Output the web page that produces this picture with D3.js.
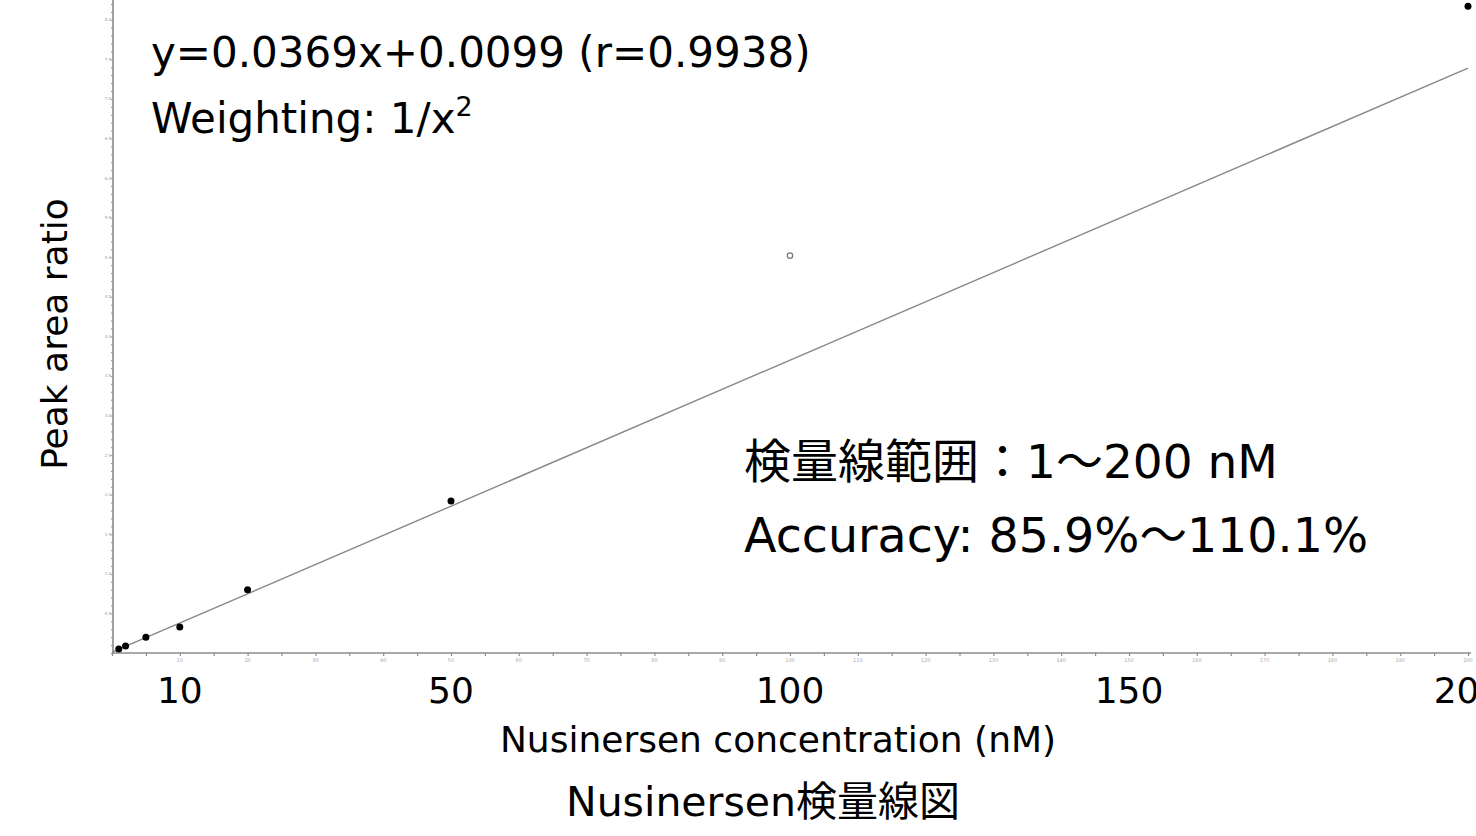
<!DOCTYPE html>
<html>
<head>
<meta charset="utf-8">
<script src="https://cdn.jsdelivr.net/npm/d3@7"></script>
<style>
  html, body { margin: 0; padding: 0; background: #fff; }
  svg { display: block; font-family: "DejaVu Sans", "Noto Sans CJK JP", sans-serif; }
</style>
</head>
<body>
<div id="chart"></div>
<script>
// calibration standards (nM) and measured peak area ratio
const concentrations = [1, 2, 5, 10, 20, 50, 200];
const ratios = [0.05, 0.088, 0.20, 0.33, 0.80, 1.92, 8.17];
// excluded point (open circle)
const excludedConc = [100];
const excludedRatio = [5.02];

const slope = 0.0369;
const intercept = 0.0099;

const bigXLabels = [10, 50, 100, 150, 200];
const smallXTicks = d3.range(10, 201, 10);
const smallYTicks = d3.range(0.5, 8.01, 0.5);

const W = 1476, H = 836;

const svg = d3.select("#chart").append("svg")
  .attr("width", W)
  .attr("height", H);

const x = d3.scaleLinear().domain([0, 200]).range([112, 1468]);
const y = d3.scaleLinear().domain([0, 8.25]).range([653, 0]);

const axisColor = "#8c8c8c";

// x axis, minor ticks every 5
const xAxis = svg.append("g")
  .attr("transform", `translate(0,${y(0)})`)
  .call(d3.axisBottom(x).tickValues(d3.range(0, 201, 5)).tickSize(3).tickFormat(""));
xAxis.select(".domain").attr("stroke", axisColor).attr("stroke-width", 1.6)
  .attr("d", `M${x(0)},0H1471`);
xAxis.selectAll(".tick line").attr("stroke", axisColor).attr("stroke-width", 1.2);

// tiny software labels under major ticks
svg.append("g").selectAll("text")
  .data(smallXTicks)
  .join("text")
  .attr("x", d => x(d))
  .attr("y", y(0) + 9)
  .attr("text-anchor", "middle")
  .attr("font-size", 5)
  .attr("fill", "#aaa")
  .text(d => d);

// y axis, minor ticks every 0.1
const yAxis = svg.append("g")
  .attr("transform", `translate(${x(0) + 1},0)`)
  .call(d3.axisLeft(y).tickValues(d3.range(0, 8.21, 0.1)).tickSize(2).tickFormat(""));
yAxis.select(".domain").attr("stroke", axisColor).attr("stroke-width", 1.6)
  .attr("d", `M0,${y(0) + 1}V0`);
yAxis.selectAll(".tick line").attr("stroke", axisColor).attr("stroke-width", 1);

svg.append("g").selectAll("text")
  .data(smallYTicks)
  .join("text")
  .attr("x", x(0) - 1)
  .attr("y", d => y(d) + 1.5)
  .attr("text-anchor", "end")
  .attr("font-size", 4)
  .attr("fill", "#999")
  .text(d => d.toFixed(1));

// regression line
const line = d3.line().x(d => x(d)).y(d => y(slope * d + intercept));
svg.append("path")
  .datum([0, 200])
  .attr("d", line)
  .attr("fill", "none")
  .attr("stroke", "#888")
  .attr("stroke-width", 1.4);

// points
svg.append("g").selectAll("circle")
  .data(concentrations)
  .join("circle")
  .attr("cx", d => x(d))
  .attr("cy", (d, i) => y(ratios[i]))
  .attr("r", 3.5)
  .attr("fill", "#000");

svg.append("g").selectAll("circle")
  .data(excludedConc)
  .join("circle")
  .attr("cx", d => x(d))
  .attr("cy", (d, i) => y(excludedRatio[i]))
  .attr("r", 2.7)
  .attr("fill", "#fff")
  .attr("stroke", "#777")
  .attr("stroke-width", 1.2);

// big x labels
svg.append("g").selectAll("text")
  .data(bigXLabels)
  .join("text")
  .attr("x", d => x(d))
  .attr("y", 703)
  .attr("text-anchor", "middle")
  .attr("font-size", 36)
  .attr("fill", "#000")
  .text(d => d);

svg.append("text")
  .attr("x", 778)
  .attr("y", 752)
  .attr("text-anchor", "middle")
  .attr("font-size", 36)
  .text("Nusinersen concentration (nM)");

svg.append("text")
  .attr("x", 763)
  .attr("y", 816)
  .attr("text-anchor", "middle")
  .attr("font-size", 41)
  .text("Nusinersen検量線図");

svg.append("text")
  .attr("transform", "translate(67,334) rotate(-90)")
  .attr("text-anchor", "middle")
  .attr("font-size", 36)
  .text("Peak area ratio");

// annotations
svg.append("text")
  .attr("x", 151)
  .attr("y", 67)
  .attr("font-size", 42)
  .text("y=0.0369x+0.0099 (r=0.9938)");

const wt = svg.append("text")
  .attr("x", 151)
  .attr("y", 133)
  .attr("font-size", 42)
  .text("Weighting: 1/x");
wt.append("tspan")
  .attr("font-size", 27)
  .attr("dy", -17)
  .text("2");

svg.append("text")
  .attr("x", 744)
  .attr("y", 478)
  .attr("font-size", 47)
  .text("検量線範囲：1～200 nM");

svg.append("text")
  .attr("x", 744)
  .attr("y", 552)
  .attr("font-size", 47.5)
  .text("Accuracy: 85.9%～110.1%");
</script>
</body>
</html>
